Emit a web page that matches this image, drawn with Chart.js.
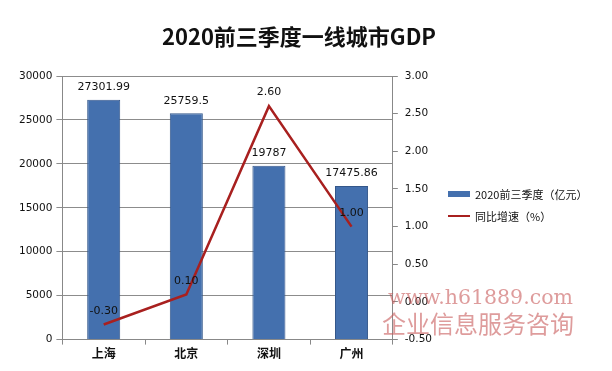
<!DOCTYPE html>
<html>
<head>
<meta charset="utf-8">
<script src="https://cdn.jsdelivr.net/npm/chart.js@4/dist/chart.umd.min.js"></script>
<style>
  body { margin: 0; background: #fff; }
  #wrap { position: relative; width: 612px; height: 371px; }
  #title { position: absolute; left: 0; width: 598px; top: 19px; text-align: center; font: bold 22px "Noto Sans CJK SC", sans-serif; color: #111; }
  #legend { position: absolute; left: 448px; top: 183px; font: 11px "Noto Sans CJK SC", sans-serif; color: #111; }
  #legend div { height: 22px; display: flex; align-items: center; }
  #legend span.sw { display: inline-block; width: 22px; margin-right: 5px; }
  #mark { position: absolute; left: 388px; top: 285px; font-family: "DejaVu Serif", "Liberation Serif", serif; color: rgba(200, 90, 90, 0.6); pointer-events: none; }
  #mark .l1 { font-size: 20.5px; }
  #mark .l2 { font-family: "Noto Sans CJK SC", serif; font-size: 24px; margin-left: -6px; line-height: 28px; }
</style>
</head>
<body>
<div id="wrap">
  <canvas id="gdpChart" width="612" height="371"></canvas>
  <div id="title">2020前三季度一线城市GDP</div>
  <div id="legend"></div>
  <div id="mark"><div class="l1">www.h61889.com</div><div class="l2">企业信息服务咨询</div></div>
</div>
<script>
const cities = ["上海", "北京", "深圳", "广州"]
const gdpValues = [27301.99, 25759.5, 19787, 17475.86]
const growthValues = [-0.3, 0.1, 2.6, 1.0]
const gdpLabels = ["27301.99", "25759.5", "19787", "17475.86"]
const barLabel = "2020前三季度（亿元）"
const lineLabel = "同比增速（%）"

const barColor = "#4470ae"
const lineColor = "#a8201f"
const tickFont = { family: "DejaVu Sans", size: 10.5 }

// value labels above bars and line points
const valueLabels = {
  id: "valueLabels",
  afterDatasetsDraw(chart) {
    const ctx = chart.ctx
    ctx.save()
    ctx.font = "11px 'DejaVu Sans'"
    ctx.fillStyle = "#111"
    ctx.textAlign = "center"
    ctx.textBaseline = "bottom"
    chart.getDatasetMeta(1).data.forEach((bar, i) => {
      ctx.fillText(gdpLabels[i], bar.x, bar.y - 7)
    })
    chart.getDatasetMeta(0).data.forEach((pt, i) => {
      ctx.fillText(growthValues[i].toFixed(2), pt.x, pt.y - 8)
    })
    ctx.restore()
  },
}

new Chart(document.getElementById("gdpChart"), {
  data: {
    labels: cities,
    datasets: [
      {
        type: "line",
        label: lineLabel,
        data: growthValues,
        yAxisID: "y1",
        borderColor: lineColor,
        borderWidth: 2.5,
        pointRadius: 0,
        tension: 0,
        order: 0,
      },
      {
        type: "bar",
        label: barLabel,
        data: gdpValues,
        yAxisID: "y",
        backgroundColor: barColor,
        borderColor: "#34578a",
        borderWidth: 1,
        barPercentage: 0.4,
        categoryPercentage: 1,
        order: 1,
      },
    ],
  },
  options: {
    responsive: false,
    animation: false,
    layout: { padding: { left: 15, right: 173, top: 76, bottom: 8 } },
    plugins: {
      legend: { display: false },
      tooltip: { enabled: false },
    },
    scales: {
      x: {
        grid: { offset: true, drawOnChartArea: false, color: "#888", tickLength: 5 },
        border: { color: "#888" },
        ticks: { font: { family: "Noto Sans CJK SC", size: 12, weight: "bold" }, color: "#111", padding: 2 },
      },
      y: {
        position: "left",
        min: 0,
        max: 30000,
        ticks: { stepSize: 5000, font: tickFont, color: "#111", padding: 4, callback: (v) => String(v) },
        grid: { color: "#8c8c8c", tickLength: 6 },
        border: { color: "#888" },
      },
      y1: {
        position: "right",
        min: -0.5,
        max: 3,
        ticks: { stepSize: 0.5, font: tickFont, color: "#111", padding: 7, callback: (v) => v.toFixed(2) },
        grid: { drawOnChartArea: false, color: "#888", tickLength: 5 },
        border: { color: "#888" },
      },
    },
  },
  plugins: [valueLabels],
})

document.getElementById("legend").innerHTML =
  `<div><span class="sw" style="height:6px;background:${barColor}"></span>${barLabel}</div>` +
  `<div><span class="sw" style="height:2px;background:${lineColor}"></span>${lineLabel}</div>`
</script>
</body>
</html>
